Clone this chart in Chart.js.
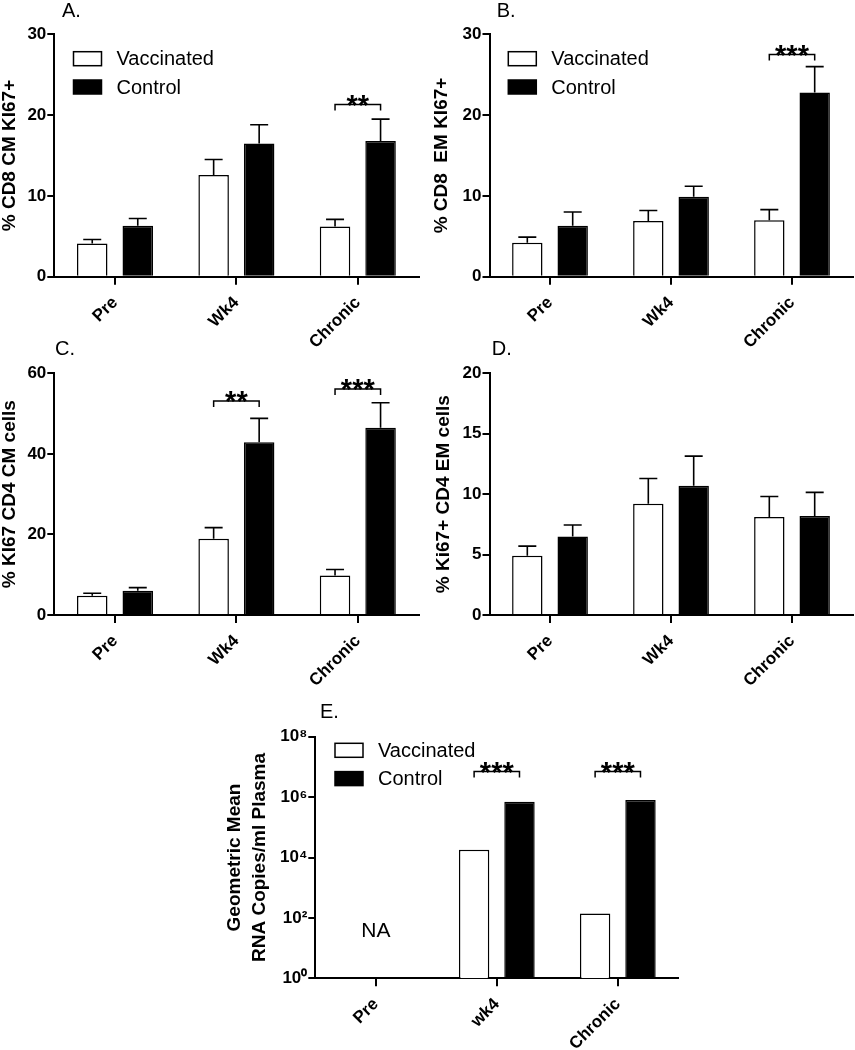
<!DOCTYPE html>
<html>
<head>
<meta charset="utf-8">
<script src="https://cdn.jsdelivr.net/npm/chart.js@4.4.1/dist/chart.umd.min.js"></script>
<style>
  html, body { margin: 0; padding: 0; background: #fff; }
  body { width: 855px; height: 1050px; position: relative; overflow: hidden; }
  canvas { position: absolute; }
</style>
</head>
<body>
<canvas id="pA" width="425" height="370" style="left:0;top:0"></canvas>
<canvas id="pB" width="430" height="370" style="left:425px;top:0"></canvas>
<canvas id="pC" width="425" height="365" style="left:0;top:330px"></canvas>
<canvas id="pD" width="430" height="365" style="left:425px;top:330px"></canvas>
<canvas id="pE" width="470" height="360" style="left:220px;top:690px"></canvas>
<script>
// ===== Data =====
const groups = ["Pre", "Wk4", "Chronic"];
const groupsE = ["Pre", "wk4", "Chronic"];
const seriesNames = ["Vaccinated", "Control"];

// A. % CD8 CM Ki67+
const cd8cmVacc = [4.1, 12.6, 6.2];
const cd8cmVaccSem = [0.5, 1.9, 0.9];
const cd8cmCtrl = [6.3, 16.5, 16.8];
const cd8cmCtrlSem = [0.9, 2.3, 2.7];

// B. % CD8 EM Ki67+
const cd8emVacc = [4.2, 6.9, 7.0];
const cd8emVaccSem = [0.7, 1.3, 1.3];
const cd8emCtrl = [6.3, 9.9, 22.8];
const cd8emCtrlSem = [1.7, 1.3, 3.2];

// C. % Ki67 CD4 CM cells
const cd4cmVacc = [4.8, 18.9, 9.8];
const cd4cmVaccSem = [0.6, 2.8, 1.5];
const cd4cmCtrl = [6.0, 42.9, 46.5];
const cd4cmCtrlSem = [0.8, 5.9, 6.2];

// D. % Ki67+ CD4 EM cells
const cd4emVacc = [4.9, 9.2, 8.1];
const cd4emVaccSem = [0.8, 2.1, 1.7];
const cd4emCtrl = [6.5, 10.7, 8.2];
const cd4emCtrlSem = [0.95, 2.45, 1.95];

// E. geometric mean viral load (Pre = NA)
const rnaVacc = [null, 1.8e4, 1.4e2];
const rnaCtrl = [null, 7e5, 8e5];
const rnaTicks = [1, 1e2, 1e4, 1e6, 1e8];

// significance brackets
const sigA = [{ group: 2, at: 21.3, label: "**" }];
const sigB = [{ group: 2, at: 27.5, label: "***" }];
const sigC = [{ group: 1, at: 53.1, label: "**" }, { group: 2, at: 56.1, label: "***" }];
const sigE = [{ group: 1, at: 7e6, label: "***" }, { group: 2, at: 7e6, label: "***" }];

// ===== Style =====
const FONT = '"Liberation Sans", Arial, Helvetica, sans-serif';
const SUP = { 0: "\u2070", 2: "\u00B2", 4: "\u2074", 6: "\u2076", 8: "\u2078" };

// ===== Extras: error bars, brackets, legend, panel letter =====
const panelExtras = {
  id: "panelExtras",
  afterDatasetsDraw(chart, args, opts) {
    const ctx = chart.ctx;
    const y = chart.scales.y;
    ctx.save();
    ctx.strokeStyle = "#000";
    ctx.fillStyle = "#000";

    // error bars (upper only)
    ctx.lineWidth = 1.6;
    chart.data.datasets.forEach((ds, d) => {
      if (!ds.sem) return;
      chart.getDatasetMeta(d).data.forEach((bar, i) => {
        const v = ds.data[i];
        if (v == null) return;
        const top = y.getPixelForValue(v + ds.sem[i]);
        ctx.beginPath();
        ctx.moveTo(bar.x, bar.y);
        ctx.lineTo(bar.x, top);
        ctx.moveTo(bar.x - 9, top);
        ctx.lineTo(bar.x + 9, top);
        ctx.stroke();
      });
    });

    // brackets
    (opts.sig || []).forEach(s => {
      const x1 = chart.getDatasetMeta(0).data[s.group].x;
      const x2 = chart.getDatasetMeta(1).data[s.group].x;
      const py = y.getPixelForValue(s.at);
      ctx.lineWidth = 1.5;
      ctx.beginPath();
      ctx.moveTo(x1, py + 6);
      ctx.lineTo(x1, py);
      ctx.lineTo(x2, py);
      ctx.lineTo(x2, py + 6);
      ctx.stroke();
      ctx.font = "bold 29px " + FONT;
      ctx.textAlign = "center";
      ctx.textBaseline = "alphabetic";
      ctx.fillText(s.label, (x1 + x2) / 2, py + 10);
    });

    // NA note
    if (opts.na) {
      ctx.font = "21px " + FONT;
      ctx.textAlign = "center";
      ctx.textBaseline = "middle";
      ctx.fillText(opts.na.text, chart.scales.x.getPixelForValue(opts.na.group), y.getPixelForValue(opts.na.at));
    }
    ctx.restore();
  },
  afterDraw(chart, args, opts) {
    const ctx = chart.ctx;
    ctx.save();
    ctx.fillStyle = "#000";
    ctx.strokeStyle = "#000";

    // legend
    if (opts.legend) {
      const L = opts.legend;
      ctx.font = "20px " + FONT;
      ctx.textAlign = "left";
      ctx.textBaseline = "middle";
      chart.data.datasets.forEach((ds, d) => {
        const by = L.y + d * 28.3;
        ctx.fillStyle = ds.backgroundColor;
        ctx.fillRect(L.x, by, 28, 14);
        ctx.lineWidth = 1.5;
        ctx.strokeRect(L.x, by, 28, 14);
        ctx.fillStyle = "#000";
        ctx.fillText(ds.label, L.x + 43, by + 8);
      });
    }

    // panel letter
    if (opts.letter) {
      ctx.font = "20px " + FONT;
      ctx.textAlign = "left";
      ctx.textBaseline = "alphabetic";
      ctx.fillText(opts.letter.text, opts.letter.x, opts.letter.y);
    }
    ctx.restore();
  }
};

// ===== Panel builder =====
function makePanel(id, cfg) {
  const bar = { categoryPercentage: 0.75, barPercentage: 0.67, borderColor: "#000", borderWidth: 1.5 };
  const yScale = {
    type: cfg.log ? "logarithmic" : "linear",
    min: cfg.min,
    max: cfg.max,
    ticks: {
      color: "#000",
      padding: 1,
      font: { family: FONT, size: 17, weight: "bold" }
    },
    grid: { drawOnChartArea: false, tickLength: 7, color: "#000", lineWidth: 2 },
    border: { display: true, color: "#000", width: 2 },
    title: {
      display: true,
      text: cfg.title,
      color: "#000",
      font: { family: FONT, size: 19, weight: "bold", lineHeight: cfg.titleLH || 1 },
      padding: { top: cfg.titlePad, bottom: 0 }
    },
    afterFit: s => { s.width = cfg.yw; }
  };
  if (cfg.log) {
    yScale.afterBuildTicks = s => { s.ticks = rnaTicks.map(v => ({ value: v })); };
    yScale.ticks.callback = v => "10" + SUP[Math.round(Math.log10(v))];
  } else {
    yScale.ticks.stepSize = cfg.step;
  }

  return new Chart(document.getElementById(id), {
    type: "bar",
    data: {
      labels: cfg.labels,
      datasets: [
        Object.assign({ label: seriesNames[0], data: cfg.vacc, sem: cfg.vaccSem, backgroundColor: "#fff" }, bar),
        Object.assign({ label: seriesNames[1], data: cfg.ctrl, sem: cfg.ctrlSem, backgroundColor: "#000" }, bar)
      ]
    },
    options: {
      responsive: false,
      animation: false,
      layout: { padding: cfg.pad },
      plugins: {
        legend: { display: false },
        tooltip: { enabled: false },
        panelExtras: { sig: cfg.sig, legend: cfg.legend, letter: cfg.letter, na: cfg.na }
      },
      scales: {
        x: {
          grid: { drawOnChartArea: false, offset: false, tickLength: 8, color: "#000", lineWidth: 2 },
          border: { display: true, color: "#000", width: 2 },
          ticks: {
            color: "#000",
            autoSkip: false,
            minRotation: 45,
            maxRotation: 45,
            padding: 8,
            font: { family: FONT, size: 17, weight: "bold" }
          },
          afterFit: s => { s.height = cfg.xh; }
        },
        y: yScale
      }
    },
    plugins: [panelExtras]
  });
}

// ===== Panels =====
makePanel("pA", {
  labels: groups, vacc: cd8cmVacc, vaccSem: cd8cmVaccSem, ctrl: cd8cmCtrl, ctrlSem: cd8cmCtrlSem,
  min: 0, max: 30, step: 10, title: "% CD8 CM KI67+", titlePad: 0,
  yw: 54.3, xh: 93.3, pad: { left: 0, top: 34.3, right: 6.5, bottom: 0 },
  sig: sigA, legend: { x: 73.5, y: 51.7 }, letter: { text: "A.", x: 62, y: 16.7 }
});

makePanel("pB", {
  labels: groups, vacc: cd8emVacc, vaccSem: cd8emVaccSem, ctrl: cd8emCtrl, ctrlSem: cd8emCtrlSem,
  min: 0, max: 30, step: 10, title: "% CD8  EM KI67+", titlePad: 7,
  yw: 64.5, xh: 93.3, pad: { left: 0, top: 34.3, right: 2.5, bottom: 0 },
  sig: sigB, legend: { x: 83.3, y: 51.7 }, letter: { text: "B.", x: 71.7, y: 16.7 }
});

makePanel("pC", {
  labels: groups, vacc: cd4cmVacc, vaccSem: cd4cmVaccSem, ctrl: cd4cmCtrl, ctrlSem: cd4cmCtrlSem,
  min: 0, max: 60, step: 20, title: "% KI67 CD4 CM cells", titlePad: 0,
  yw: 54.3, xh: 80, pad: { left: 0, top: 43.3, right: 6.5, bottom: 0 },
  sig: sigC, letter: { text: "C.", x: 55, y: 24.5 }
});

makePanel("pD", {
  labels: groups, vacc: cd4emVacc, vaccSem: cd4emVaccSem, ctrl: cd4emCtrl, ctrlSem: cd4emCtrlSem,
  min: 0, max: 20, step: 5, title: "% Ki67+ CD4 EM cells", titlePad: 9,
  yw: 64.5, xh: 80, pad: { left: 0, top: 43.3, right: 2.5, bottom: 0 },
  letter: { text: "D.", x: 66.7, y: 24.5 }
});

makePanel("pE", {
  labels: groupsE, vacc: rnaVacc, ctrl: rnaCtrl, log: true,
  min: 1, max: 1e8, title: ["Geometric Mean", "RNA Copies/ml Plasma"], titlePad: 2, titleLH: 1.32,
  yw: 95.3, xh: 71.7, pad: { left: 0, top: 46.7, right: 11.7, bottom: 0 },
  sig: sigE, legend: { x: 115, y: 53.3 }, letter: { text: "E.", x: 100, y: 28.3 },
  na: { group: 0, at: 35, text: "NA" }
});
</script>
</body>
</html>
